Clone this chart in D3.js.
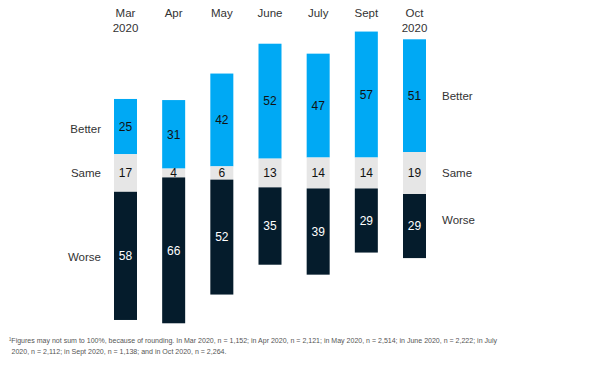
<!DOCTYPE html>
<html><head><meta charset="utf-8">
<script src="https://cdn.jsdelivr.net/npm/d3@7"></script>
<style>body{margin:0;background:#fff}svg{display:block}</style>
</head><body><svg id="c" width="605" height="367"></svg>
<script>
const months = ["Mar|2020","Apr","May","June","July","Sept","Oct|2020"];
const better = [25,31,42,52,47,57,51];
const same = [17,4,6,13,14,14,19];
const worse = [58,66,52,35,39,29,29];
const seriesNames = ["Better","Same","Worse"];
const colors = ["#00a9f4","#e6e6e6","#051c2c"];
const textColors = ["#111","#111","#fff"];
const footnote = ["\u00b9Figures may not sum to 100%, because of rounding. In Mar 2020, n = 1,152; in Apr 2020, n = 2,121; in May 2020, n = 2,514; in June 2020, n = 2,222; in July",
  "2020, n = 2,112; in Sept 2020, n = 1,138; and in Oct 2020, n = 2,264."];

const svg = d3.select("#c");
const font = "'Liberation Sans', Arial, sans-serif";
const x = d3.scalePoint().domain(months).range([125.5, 414.5]);
const y = d3.scaleLinear().domain([-60, 60]).range([173 - 60*2.21, 173 + 60*2.21]);
const bw = 23;

const data = months.map((m,i)=>{
  const top = -(better[i] + same[i]/2);
  const vals = [better[i], same[i], worse[i]];
  let acc = top;
  return vals.map((v,k)=>{ const s = {m, k, v, y0: acc, y1: acc+v}; acc += v; return s; });
});

const g = svg.append("g");
data.forEach(segs=>{
  segs.forEach(s=>{
    g.append("rect").attr("x", x(s.m)-bw/2).attr("width", bw)
      .attr("y", y(s.y0)).attr("height", y(s.y1)-y(s.y0))
      .attr("fill", colors[s.k]);
    g.append("text").attr("x", x(s.m)).attr("y", (y(s.y0)+y(s.y1))/2)
      .attr("dy","0.35em").attr("text-anchor","middle")
      .attr("font-family", font).attr("font-size", 12)
      .attr("fill", textColors[s.k]).text(s.v);
  });
});

// month labels
months.forEach(m=>{
  const t = svg.append("text").attr("x", x(m)).attr("y", 16.5).attr("text-anchor","middle")
    .attr("font-family", font).attr("font-size", 11.5).attr("fill","#333");
  m.split("|").forEach((ln,j)=>{
    t.append("tspan").attr("x", x(m)).attr("dy", j? 15 : 0).text(ln);
  });
});

// row labels left (Mar) and right (Oct)
const first = data[0], last = data[data.length-1];
const leftOff = [2.5, 0, 1];
first.forEach(s=>{
  svg.append("text").attr("x", 101).attr("y", (y(s.y0)+y(s.y1))/2 + leftOff[s.k])
    .attr("dy","0.35em").attr("text-anchor","end").attr("font-family", font)
    .attr("font-size", 11.5).attr("fill","#333").text(seriesNames[s.k]);
});
const rightOff = [0, 0, -6];
last.forEach(s=>{
  svg.append("text").attr("x", 442).attr("y", (y(s.y0)+y(s.y1))/2 + rightOff[s.k])
    .attr("dy","0.35em").attr("text-anchor","start").attr("font-family", font)
    .attr("font-size", 11.5).attr("fill","#333").text(seriesNames[s.k]);
});

// footnote
const fnX = [9, 11.5], fnLen = [488, 215];
footnote.forEach((ln,j)=>{
  svg.append("text").attr("x", fnX[j]).attr("y", 343 + j*10.5)
    .attr("font-family", font).attr("font-size", 7.6).attr("fill","#555")
    .attr("textLength", fnLen[j]).attr("lengthAdjust","spacingAndGlyphs")
    .text(ln);
});
</script></body></html>
